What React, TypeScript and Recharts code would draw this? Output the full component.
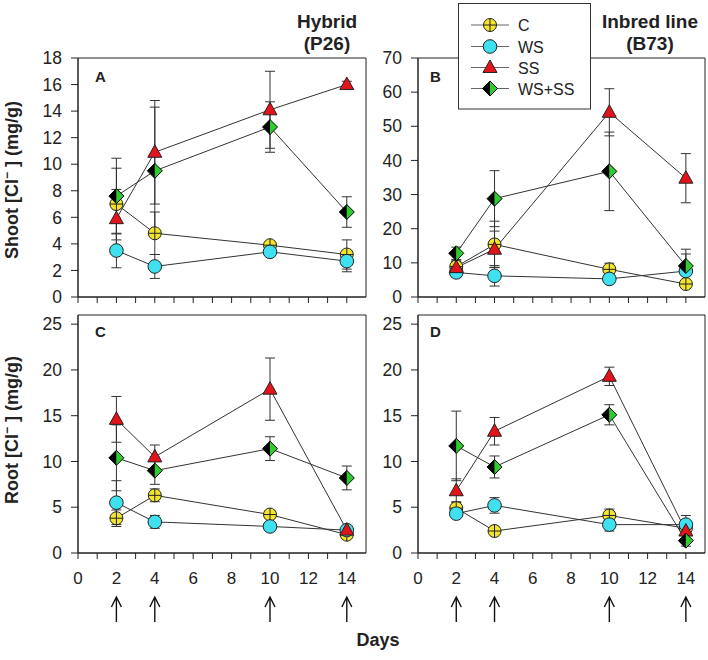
import React from 'react';
import { LineChart, Line, XAxis, YAxis, ErrorBar, ReferenceArea } from 'recharts';

const DAYS = [2, 4, 10, 14];
const X_TICKS = [0, 1, 2, 3, 4, 5, 6, 7, 8, 9, 10, 11, 12, 13, 14];

// A: shoot, hybrid (P26)
const A_C = [7.0, 4.8, 3.9, 3.2];
const A_C_SD = [2.7, 1.6, 0.3, 1.1];
const A_WS = [3.5, 2.3, 3.4, 2.7];
const A_WS_SD = [1.3, 0.9, 0.3, 0.8];
const A_SS = [5.9, 10.9, 14.1, 16.0];
const A_SS_SD = [2.2, 3.9, 2.9, 0.25];
const A_WSSS = [7.6, 9.5, 12.8, 6.4];
const A_WSSS_SD = [2.85, 4.8, 1.9, 1.15];

// B: shoot, inbred line (B73)
const B_C = [8.9, 15.4, 8.1, 3.8];
const B_C_SD = [1.5, 6.8, 1.8, 1.0];
const B_WS = [7.2, 6.2, 5.3, 7.6];
const B_WS_SD = [1.5, 3.0, 0.8, 5.0];
const B_SS = [8.6, 14.0, 54.1, 34.8];
const B_SS_SD = [2.0, 5.3, 6.9, 7.2];
const B_WSSS = [12.8, 28.8, 36.8, 9.1];
const B_WSSS_SD = [1.8, 8.2, 11.5, 4.9];

// C: root, hybrid (P26)
const C_C = [3.8, 6.3, 4.2, 2.0];
const C_C_SD = [0.9, 0.7, 0.4, 0.3];
const C_WS = [5.5, 3.4, 2.9, 2.5];
const C_WS_SD = [2.4, 0.7, 0.3, 0.3];
const C_SS = [14.6, 10.5, 17.9, 2.5];
const C_SS_SD = [2.5, 1.3, 3.4, 0.3];
const C_WSSS = [10.4, 9.0, 11.4, 8.2];
const C_WSSS_SD = [3.6, 1.5, 1.3, 1.3];

// D: root, inbred line (B73)
const D_C = [4.9, 2.4, 4.1, 2.7];
const D_C_SD = [0.7, 0.3, 0.7, 0.5];
const D_WS = [4.3, 5.2, 3.1, 3.1];
const D_WS_SD = [0.4, 0.85, 0.7, 1.0];
const D_SS = [6.8, 13.3, 19.3, 2.4];
const D_SS_SD = [1.3, 1.5, 1.0, 0.4];
const D_WSSS = [11.7, 9.4, 15.1, 1.35];
const D_WSSS_SD = [3.8, 1.2, 1.1, 0.6];

const FONT = '"Liberation Sans", Arial, Helvetica, sans-serif';
const INK = '#222';
const COLORS = {
  c: '#f3e52c',
  ws: '#3fe1f0',
  ss: '#e3131b',
  green: '#2fcc2f',
};

function buildRows(c, cSd, ws, wsSd, ss, ssSd, wsss, wsssSd) {
  return DAYS.map((day, i) => ({
    day,
    c: c[i],
    cSd: cSd[i],
    ws: ws[i],
    wsSd: wsSd[i],
    ss: ss[i],
    ssSd: ssSd[i],
    wsss: wsss[i],
    wsssSd: wsssSd[i],
  }));
}

function CMarker({ cx, cy }) {
  const r = 6.5;
  return (
    <g>
      <circle cx={cx} cy={cy} r={r} fill={COLORS.c} stroke={INK} strokeWidth={1} />
      <line x1={cx - r} x2={cx + r} y1={cy} y2={cy} stroke={INK} strokeWidth={1} />
      <line x1={cx} x2={cx} y1={cy - r} y2={cy + r} stroke={INK} strokeWidth={1} />
    </g>
  );
}

function WsMarker({ cx, cy }) {
  return <circle cx={cx} cy={cy} r={6.8} fill={COLORS.ws} stroke={INK} strokeWidth={1} />;
}

function SsMarker({ cx, cy }) {
  return (
    <polygon
      points={`${cx},${cy - 7.5} ${cx + 7},${cy + 5} ${cx - 7},${cy + 5}`}
      fill={COLORS.ss}
      stroke={INK}
      strokeWidth={1}
    />
  );
}

function WsssMarker({ cx, cy }) {
  const h = 7.5;
  return (
    <g>
      <polygon points={`${cx},${cy - h} ${cx - h},${cy} ${cx},${cy + h}`} fill="#000" />
      <polygon points={`${cx},${cy - h} ${cx + h},${cy} ${cx},${cy + h}`} fill={COLORS.green} />
      <polygon
        points={`${cx},${cy - h} ${cx + h},${cy} ${cx},${cy + h} ${cx - h},${cy}`}
        fill="none"
        stroke="#000"
        strokeWidth={1}
      />
    </g>
  );
}

const SERIES = [
  { key: 'c', name: 'C', Marker: CMarker },
  { key: 'ws', name: 'WS', Marker: WsMarker },
  { key: 'ss', name: 'SS', Marker: SsMarker },
  { key: 'wsss', name: 'WS+SS', Marker: WsssMarker },
];

function DayTick({ x, y, payload }) {
  const v = payload.value;
  return (
    <g>
      {v % 2 === 0 && (
        <text x={x} y={y + 23} textAnchor="middle" fontSize={17} fill={INK} fontFamily={FONT}>
          {v}
        </text>
      )}
      {DAYS.includes(v) && (
        <path
          d={`M${x},${y + 61} L${x},${y + 36} M${x - 5},${y + 46} L${x},${y + 36} L${x + 5},${y + 46}`}
          stroke="#111"
          strokeWidth={1.4}
          fill="none"
        />
      )}
    </g>
  );
}

function EmptyTick() {
  return <g />;
}

function Panel({ rows, left, top, width, height, xAxisHeight, yMax, yTicks, plotRight, labels }) {
  return (
    <div style={{ position: 'absolute', left, top }}>
      <LineChart
        width={width}
        height={height}
        data={rows}
        margin={{ top: 20, right: width - (plotRight - left), left: 16, bottom: 0 }}
      >
        <XAxis
          dataKey="day"
          type="number"
          domain={[0, 15]}
          ticks={X_TICKS}
          interval={0}
          height={xAxisHeight}
          tickSize={6}
          tickLine={{ stroke: INK }}
          axisLine={{ stroke: INK }}
          tick={labels ? DayTick : EmptyTick}
        />
        <YAxis
          type="number"
          domain={[0, yMax]}
          ticks={yTicks}
          interval={0}
          width={44}
          tickSize={7}
          tickMargin={9}
          tickLine={{ stroke: INK }}
          axisLine={{ stroke: INK }}
          tick={{ fontSize: 17.5, fill: INK, fontFamily: FONT }}
        />
        <ReferenceArea x1={0} x2={15} y1={0} y2={yMax} fill="none" stroke={INK} strokeWidth={1} />
        {SERIES.map(({ key, name, Marker }) => (
          <Line
            key={key}
            dataKey={key}
            name={name}
            stroke="#333"
            strokeWidth={1}
            isAnimationActive={false}
            dot={(p) => <Marker key={`${key}-${p.index}`} cx={p.cx} cy={p.cy} />}
          >
            <ErrorBar dataKey={`${key}Sd`} width={5} stroke="#333" strokeWidth={1} direction="y" />
          </Line>
        ))}
      </LineChart>
    </div>
  );
}

function Overlay() {
  const rowY = [25, 46.5, 67.5, 88.5];
  return (
    <svg
      width={708}
      height={660}
      style={{ position: 'absolute', left: 0, top: 0, pointerEvents: 'none' }}
      fontFamily={FONT}
    >
      <text x={327} y={28} textAnchor="middle" fontSize={19} fontWeight="bold" fill={INK}>Hybrid</text>
      <text x={327} y={50} textAnchor="middle" fontSize={19} fontWeight="bold" fill={INK}>(P26)</text>
      <text x={650} y={28} textAnchor="middle" fontSize={19} fontWeight="bold" fill={INK}>Inbred line</text>
      <text x={650} y={50} textAnchor="middle" fontSize={19} fontWeight="bold" fill={INK}>(B73)</text>

      <text transform="translate(18,180) rotate(-90)" textAnchor="middle" fontSize={18} fontWeight="bold" fill={INK}>
        Shoot [Cl<tspan dy={-7} fontSize={12}>−</tspan><tspan dy={7}> ] (mg/g)</tspan>
      </text>
      <text transform="translate(18,430) rotate(-90)" textAnchor="middle" fontSize={18} fontWeight="bold" fill={INK}>
        Root [Cl<tspan dy={-7} fontSize={12}>−</tspan><tspan dy={7}> ] (mg/g)</tspan>
      </text>

      <text x={95} y={82} fontSize={15} fontWeight="bold" fill={INK}>A</text>
      <text x={430} y={82} fontSize={15} fontWeight="bold" fill={INK}>B</text>
      <text x={95} y={337} fontSize={15} fontWeight="bold" fill={INK}>C</text>
      <text x={430} y={337} fontSize={15} fontWeight="bold" fill={INK}>D</text>

      <text x={378} y={646} textAnchor="middle" fontSize={18} fontWeight="bold" fill={INK}>Days</text>

      <rect x={458.5} y={3.5} width={132} height={105.5} fill="#fff" stroke="#333" strokeWidth={1} />
      {SERIES.map(({ key, name, Marker }, i) => (
        <g key={key}>
          <line x1={471} x2={509} y1={rowY[i]} y2={rowY[i]} stroke="#666" strokeWidth={1} />
          <Marker cx={490} cy={rowY[i]} />
          <text x={518} y={rowY[i] + 6} fontSize={16} fill={INK}>{name}</text>
        </g>
      ))}
    </svg>
  );
}

export default function App() {
  const rowsA = buildRows(A_C, A_C_SD, A_WS, A_WS_SD, A_SS, A_SS_SD, A_WSSS, A_WSSS_SD);
  const rowsB = buildRows(B_C, B_C_SD, B_WS, B_WS_SD, B_SS, B_SS_SD, B_WSSS, B_WSSS_SD);
  const rowsC = buildRows(C_C, C_C_SD, C_WS, C_WS_SD, C_SS, C_SS_SD, C_WSSS, C_WSSS_SD);
  const rowsD = buildRows(D_C, D_C_SD, D_WS, D_WS_SD, D_SS, D_SS_SD, D_WSSS, D_WSSS_SD);

  return (
    <div style={{ position: 'absolute', left: 0, top: 0, width: 708, height: 660, background: '#fff', fontFamily: FONT }}>
      <Panel rows={rowsA} left={18} top={38} width={353} height={271} xAxisHeight={12}
        yMax={18} yTicks={[0, 2, 4, 6, 8, 10, 12, 14, 16, 18]} plotRight={366} labels={false} />
      <Panel rows={rowsB} left={358} top={38} width={350} height={271} xAxisHeight={12}
        yMax={70} yTicks={[0, 10, 20, 30, 40, 50, 60, 70]} plotRight={705} labels={false} />
      <Panel rows={rowsC} left={18} top={295} width={353} height={338} xAxisHeight={80}
        yMax={26} yTicks={[0, 5, 10, 15, 20, 25]} plotRight={366} labels />
      <Panel rows={rowsD} left={358} top={295} width={350} height={338} xAxisHeight={80}
        yMax={26} yTicks={[0, 5, 10, 15, 20, 25]} plotRight={705} labels />
      <Overlay />
    </div>
  );
}
